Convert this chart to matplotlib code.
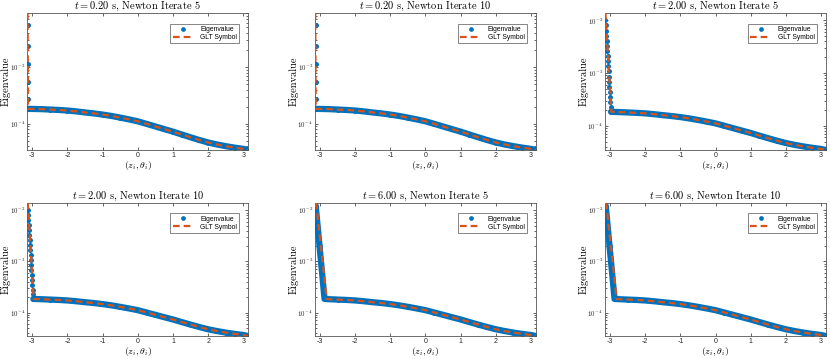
import matplotlib
matplotlib.use("Agg")
import matplotlib.pyplot as plt
from matplotlib.ticker import FuncFormatter, LogLocator, NullFormatter
import numpy as np

# smooth part of the spectrum, same in every panel
theta_smooth = [-2.75, -2.50, -2.25, -2.00, -1.75, -1.50, -1.25, -1.00, -0.75, -0.50, -0.25, 0.00,
                0.25, 0.50, 0.75, 1.00, 1.25, 1.50, 1.75, 2.00, 2.25, 2.50, 2.75, 3.00, 3.14]
eig_smooth = [1.82e-4, 1.79e-4, 1.76e-4, 1.72e-4, 1.66e-4, 1.59e-4, 1.53e-4, 1.46e-4, 1.38e-4, 1.29e-4,
              1.20e-4, 1.11e-4, 1.00e-4, 9.0e-5, 8.1e-5, 7.3e-5, 6.5e-5, 5.8e-5, 5.2e-5, 4.7e-5,
              4.34e-5, 4.05e-5, 3.82e-5, 3.63e-5, 3.47e-5]

# spike near theta = -pi, eigenvalues
spike_x_t02 = [-3.125, -3.125, -3.125, -3.125, -3.125, -3.115]
spike_y_t02 = [5.6e-3, 2.37e-3, 1.13e-3, 5.5e-4, 2.76e-4, 1.84e-4]
spike_x_t2 = [-3.130, -3.121, -3.112, -3.103, -3.094, -3.086, -3.077, -3.068, -3.059, -3.050,
              -3.041, -3.032, -3.023, -3.014, -3.006, -2.997, -2.988, -2.979, -2.970]
spike_y_t2 = [1.0e-2, 8.0e-3, 6.4e-3, 5.1e-3, 4.1e-3, 3.3e-3, 2.6e-3, 2.1e-3, 1.7e-3, 1.35e-3,
              1.08e-3, 8.6e-4, 6.9e-4, 5.5e-4, 4.4e-4, 3.5e-4, 2.8e-4, 2.3e-4, 1.84e-4]
spike_x_t6 = [-3.120, -3.084, -3.049, -3.013, -2.977, -2.941, -2.906, -2.870]
spike_y_t6 = [1.2e-2, 6.6e-3, 3.64e-3, 2.0e-3, 1.10e-3, 6.07e-4, 3.34e-4, 1.84e-4]

# spike of the GLT symbol
glt_x_t02 = [-3.135, -3.120]
glt_y_t02 = [9.1e-3, 1.84e-4]
glt_x_t2 = [-3.130, -2.960]
glt_y_t2 = [1.4e-2, 1.84e-4]
glt_x_t6 = [-3.110, -2.810]
glt_y_t6 = [1.4e-2, 1.84e-4]

times = ["0.20", "0.20", "2.00", "2.00", "6.00", "6.00"]
iterates = [5, 10, 5, 10, 5, 10]

spikes = {
    "0.20": (spike_x_t02, spike_y_t02, glt_x_t02, glt_y_t02, False),
    "2.00": (spike_x_t2, spike_y_t2, glt_x_t2, glt_y_t2, False),
    "6.00": (spike_x_t6, spike_y_t6, glt_x_t6, glt_y_t6, True),
}

BLUE = "#0072BD"
ORANGE = "#D95319"
GRAY = "#262626"

plt.rcParams["mathtext.fontset"] = "cm"
plt.rcParams["axes.unicode_minus"] = False

fig = plt.figure(figsize=(8.3, 3.59), dpi=100)

lefts = [0.0329, 0.3795, 0.7289]
rows = [(0.5822, 0.3825), (0.0640, 0.3714)]
W = 0.2663


def log_label(v, pos):
    e = int(round(np.log10(v)))
    return r"$\mathsf{10^{%d}}$" % e


for k in range(6):
    r, c = divmod(k, 3)
    ax = fig.add_axes([lefts[c], rows[r][0], W, rows[r][1]])
    t = times[k]
    sx, sy, gx, gy, joined = spikes[t]

    ex = sx + theta_smooth
    ey = sy + eig_smooth
    glx = gx + theta_smooth
    gly = gy + eig_smooth

    # dense eigenvalues -> thick band
    if joined:
        ax.plot(ex, ey, color=BLUE, lw=4.5, solid_capstyle="round", solid_joinstyle="round", zorder=2)
    else:
        ax.plot(sx[-1:] + theta_smooth, sy[-1:] + eig_smooth, color=BLUE, lw=4.5,
                solid_capstyle="round", solid_joinstyle="round", zorder=2)
    ax.plot(ex, ey, "o", color=BLUE, ms=3.6, mec="none", zorder=2)
    ax.plot(glx, gly, color=ORANGE, lw=1.6, dashes=(3.0, 1.8), zorder=3)

    # legend handles
    h1, = ax.plot([], [], "o", color=BLUE, ms=3.4, mec="none", label="Eigenvalue")
    h2, = ax.plot([], [], color=ORANGE, lw=1.6, dashes=(3.0, 1.8), label="GLT Symbol")

    ax.set_yscale("log")
    ax.set_xlim(-np.pi, np.pi)
    ax.set_ylim(min(ey + gly), max(ey + gly))
    ax.set_xticks([-3, -2, -1, 0, 1, 2, 3])
    ax.yaxis.set_major_locator(LogLocator(base=10))
    ax.yaxis.set_major_formatter(FuncFormatter(log_label))
    ax.yaxis.set_minor_locator(LogLocator(base=10, subs=np.arange(2, 10)))
    ax.yaxis.set_minor_formatter(NullFormatter())

    ax.tick_params(which="both", direction="in", top=True, right=True, colors=GRAY,
                   labelsize=5, width=0.5, pad=1.5)
    ax.tick_params(which="major", length=2.5)
    ax.tick_params(which="minor", length=1.3)
    for lab in ax.get_xticklabels() + ax.get_yticklabels():
        lab.set_family("Liberation Sans")
    for s in ax.spines.values():
        s.set_color("#555555")
        s.set_linewidth(0.6)

    ax.set_title(r"$t = %s$ s, Newton Iterate %d" % (t, iterates[k]),
                 fontfamily="cmr10", fontsize=7.5, pad=3)
    ax.set_xlabel(r"$(z_i, \theta_i)$", fontsize=7)
    ax.xaxis.set_label_coords(0.5, -0.066)
    ax.set_ylabel("Eigenvalue", fontfamily="cmr10", fontsize=7.5)
    ax.yaxis.set_label_coords(-0.074, 0.5)

    leg = ax.legend(handles=[h1, h2], loc="upper right", frameon=True,
                    fancybox=False, framealpha=1, edgecolor="#555555", handlelength=3.0,
                    borderpad=0.35, labelspacing=0.15, handletextpad=1.0,
                    bbox_to_anchor=(0.975, 0.945), prop={"family": "Liberation Sans", "size": 4.9})
    leg.get_frame().set_linewidth(0.5)

fig.savefig("out.png", dpi=100)
